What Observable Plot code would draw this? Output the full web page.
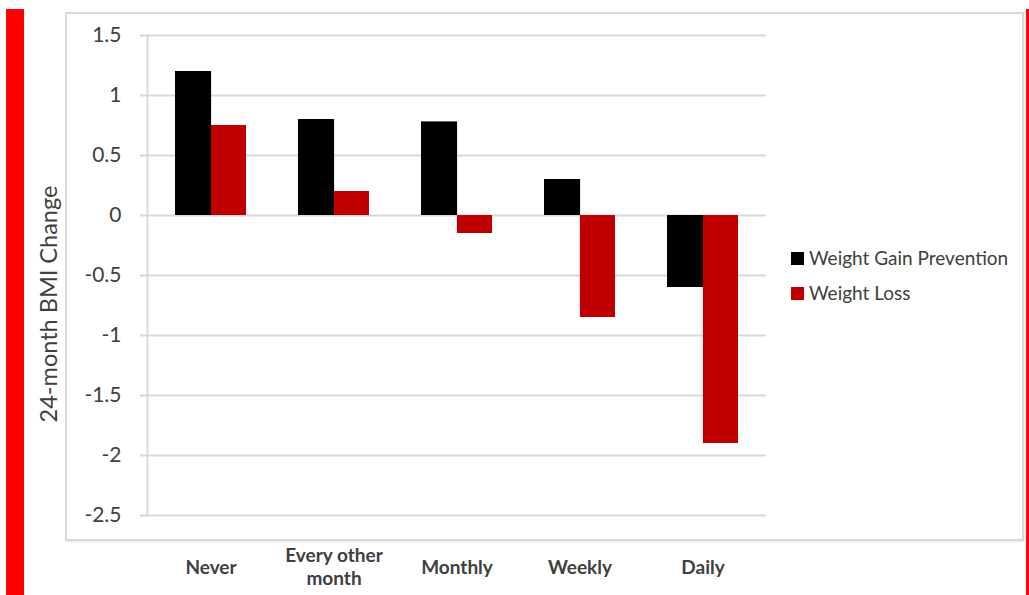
<!DOCTYPE html>
<html>
<head>
<meta charset="utf-8">
<script src="https://cdn.jsdelivr.net/npm/d3@7"></script>
<script src="https://cdn.jsdelivr.net/npm/@observablehq/plot@0.6"></script>
<style>
  html, body { margin: 0; padding: 0; background: #fff; }
  #wrap { position: relative; width: 1029px; height: 595px; overflow: hidden; font-family: Lato, "Open Sans", sans-serif; }
  .deco { position: absolute; }
  #chart { position: absolute; left: 0; top: 0; }
  .legend-item { position: absolute; left: 791px; font-size: 19px; color: #404040; display: flex; align-items: center; white-space: nowrap; line-height: 20px; }
  .legend-item span.sw { display: inline-block; width: 13px; height: 13px; margin-right: 5px; }
  #ytitle { position: absolute; left: 48px; top: 304px; transform: translate(-50%, -50%) rotate(-90deg); font-size: 23.5px; color: #404040; white-space: nowrap; }
</style>
</head>
<body>
<div id="wrap">
  <div class="deco" style="left:6px;top:9px;width:18px;height:586px;background:#ff0000;"></div>
  <div class="deco" style="left:1026px;top:9px;width:3px;height:586px;background:#ff0000;"></div>
  <div class="deco" style="left:65px;top:12px;width:955px;height:525px;border:2px solid #d9d9d9;box-shadow:1px 1px 2px #e6e6e6;"></div>
  <div id="chart"></div>
  <div id="ytitle">24-month BMI Change</div>
  <div id="legend"></div>
</div>
<script>
const categories = ["Never", "Every other\nmonth", "Monthly", "Weekly", "Daily"];
const series = ["Weight Gain Prevention", "Weight Loss"];
const gainPrevention = [1.2, 0.8, 0.78, 0.3, -0.6];
const weightLoss = [0.75, 0.2, -0.15, -0.85, -1.9];
const yTicks = [1.5, 1, 0.5, 0, -0.5, -1, -1.5, -2, -2.5];
const colors = ["#000000", "#c00000"];

const rows = [];
categories.forEach((c, i) => {
  rows.push({cat: c, series: series[0], value: gainPrevention[i]});
  rows.push({cat: c, series: series[1], value: weightLoss[i]});
});

const W = 1029, H = 595;
const mL = 147, mR = 263, mT = 35, mB = 80;
const pad = 0.42;
const bw = ((W - mL - mR) / categories.length) * (1 - pad);
const half = bw / 2;

const chart = Plot.plot({
  width: W,
  height: H,
  marginLeft: mL,
  marginRight: mR,
  marginTop: mT,
  marginBottom: mB,
  style: {background: "transparent", fontFamily: "Lato, 'Open Sans', sans-serif", color: "#404040", overflow: "visible"},
  x: {domain: categories, paddingInner: pad, paddingOuter: pad / 2, align: 0.5, axis: null},
  y: {domain: [-2.5, 1.5], axis: null},
  marks: [
    Plot.ruleY(yTicks, {y: d => d, stroke: "#d9d9d9", strokeWidth: 2}),
    Plot.barY(rows.filter(r => r.series === series[0]), {x: "cat", y: "value", fill: colors[0], insetRight: half - 1}),
    Plot.barY(rows.filter(r => r.series === series[1]), {x: "cat", y: "value", fill: colors[1], insetLeft: half}),
    Plot.axisY({ticks: yTicks, tickFormat: d => String(d), tickSize: 7, tickPadding: 19, stroke: "#d9d9d9", strokeWidth: 2, fontSize: 21, fill: "#404040", label: null}),
    Plot.frame({anchor: "left", stroke: "#d9d9d9", strokeWidth: 2}),
    Plot.axisX({tickSize: 0, tickPadding: 51, lineAnchor: "middle", lineHeight: 1.2, fontSize: 19, fontWeight: "bold", fill: "#404040", label: null})
  ]
});
document.getElementById("chart").appendChild(chart);

const legend = document.getElementById("legend");
const legendTops = [258, 293];
series.forEach((s, i) => {
  const item = document.createElement("div");
  item.className = "legend-item";
  item.style.top = (legendTops[i] - 10) + "px";
  item.innerHTML = `<span class="sw" style="background:${colors[i]}"></span>${s}`;
  legend.appendChild(item);
});
</script>
</body>
</html>
